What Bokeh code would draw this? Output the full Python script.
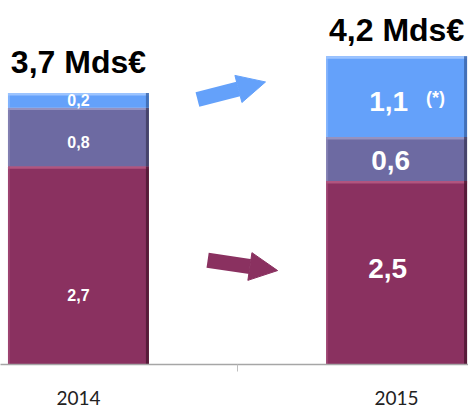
from bokeh.plotting import figure
from bokeh.models import Range1d, FixedTicker, Arrow, NormalHead
from bokeh.core.properties import value
from bokeh.embed import file_html
from bokeh.resources import INLINE

years = ["2014", "2015"]
bottom_vals = [2.7, 2.5]
middle_vals = [0.8, 0.6]
top_vals = [0.2, 1.1]
totals_txt = ["3,7 Mds€", "4,2 Mds€"]
bottom_txt = ["2,7", "2,5"]
middle_txt = ["0,8", "0,6"]
top_txt = ["0,2", "1,1"]

col_bottom = "#8A3160"
col_middle = "#6D6AA2"
col_top = "#64A1FA"
hi_bottom = "#B0557F"
hi_middle = "#9592C0"
hi_top = "#9CC4FF"
dk_bottom = "#4A1530"
dk_middle = "#3C3A5E"
dk_top = "#3A64A8"

xs = [0, 1]
W = 0.443
PX_Y = 1 / 74.0
PX_X = 1 / 318.0

p = figure(width=468, height=407, output_backend="svg", toolbar_location=None,
           x_range=Range1d(-0.245, 1.226), y_range=Range1d(0, 4.96),
           min_border_left=0, min_border_right=0, min_border_top=0, min_border_bottom=40)
p.outline_line_color = None
p.grid.visible = False
p.yaxis.visible = False
p.background_fill_color = "white"

b0 = [0, 0]
b1 = [bottom_vals[i] for i in range(2)]
b2 = [bottom_vals[i] + middle_vals[i] for i in range(2)]
b3 = [b2[i] + top_vals[i] for i in range(2)]

lefts = [x - W / 2 for x in xs]
rights = [x + W / 2 for x in xs]
for lo, hi, c, h, d in [(b0, b1, col_bottom, hi_bottom, dk_bottom),
                        (b1, b2, col_middle, hi_middle, dk_middle),
                        (b2, b3, col_top, hi_top, dk_top)]:
    p.vbar(x=xs, width=W, bottom=lo, top=hi, fill_color=c, line_color=None)
    # bevel: light top edge, dark right edge
    p.quad(left=lefts, right=rights, bottom=[v - 2.5 * PX_Y for v in hi], top=hi,
           fill_color=h, line_color=None)
    p.quad(left=[r - 3 * PX_X for r in rights], right=rights, bottom=lo, top=hi,
           fill_color=d, line_color=None, fill_alpha=0.8)
    p.quad(left=lefts, right=[l + 2 * PX_X for l in lefts], bottom=lo, top=hi,
           fill_color=h, line_color=None, fill_alpha=0.5)

# axis
p.xaxis.ticker = FixedTicker(ticks=xs, minor_ticks=[0.5])
p.xaxis.major_label_overrides = {0: "2014", 1: "2015"}
p.xaxis.major_tick_line_color = None
p.xaxis.minor_tick_out = 7
p.xaxis.minor_tick_in = 0
p.xaxis.minor_tick_line_color = "#BFBFBF"
p.xaxis.axis_line_color = "#A6A6A6"
p.xaxis.axis_line_width = 1.5
p.xaxis.major_label_text_font = "Lato"
p.xaxis.major_label_text_font_size = "19px"
p.xaxis.major_label_text_color = "#222222"
p.xaxis.major_label_standoff = 19

# totals
p.text(x=xs, y=b3, text=totals_txt, y_offset=[-31, -26],
       text_font=value("Liberation Sans"), text_font_style="bold", text_font_size="32px",
       text_align="center", text_baseline="alphabetic", text_color="black")

# segment labels
mid_b = [(b0[i] + b1[i]) / 2 for i in range(2)]
mid_m = [(b1[i] + b2[i]) / 2 for i in range(2)]
mid_t = [(b2[i] + b3[i]) / 2 for i in range(2)]
small = dict(text_font=value("Liberation Sans"), text_font_style="bold", text_font_size="16px",
             text_align="center", text_baseline="middle", text_color="white")
big = dict(text_font=value("Liberation Sans"), text_font_style="bold", text_font_size="28px",
           text_align="center", text_baseline="middle", text_color="white")
p.text(x=[0], y=[mid_b[0]], text=[bottom_txt[0]], y_offset=[30], **small)
p.text(x=[0], y=[mid_m[0]], text=[middle_txt[0]], y_offset=[5], **small)
p.text(x=[0], y=[mid_t[0]], text=[top_txt[0]], y_offset=[0], **small)

p.text(x=[1], y=[mid_b[1]], text=[bottom_txt[1]], x_offset=[-9], y_offset=[-4], **big)
p.text(x=[1], y=[mid_m[1]], text=[middle_txt[1]], x_offset=[-6], y_offset=[1], **big)
p.text(x=[1], y=[mid_t[1]], text=[top_txt[1]], x_offset=[-8], y_offset=[5], **big)
p.text(x=[1], y=[mid_t[1]], text=["(*)"], x_offset=[39], y_offset=[1], text_font=value("Liberation Sans"),
       text_font_style="bold", text_font_size="18px", text_align="center", text_baseline="middle",
       text_color="white")

# arrows (decorative, between the bars)
p.add_layout(Arrow(x_start=0.374, y_start=3.61, x_end=0.588, y_end=3.85,
                   line_width=15, line_color=col_top,
                   end=NormalHead(size=28, fill_color=col_top, line_color=col_top)))
p.add_layout(Arrow(x_start=0.406, y_start=1.42, x_end=0.626, y_end=1.28,
                   line_width=15, line_color=col_bottom,
                   end=NormalHead(size=28, fill_color=col_bottom, line_color=col_bottom)))

open("out.html", "w").write(file_html(p, INLINE))
